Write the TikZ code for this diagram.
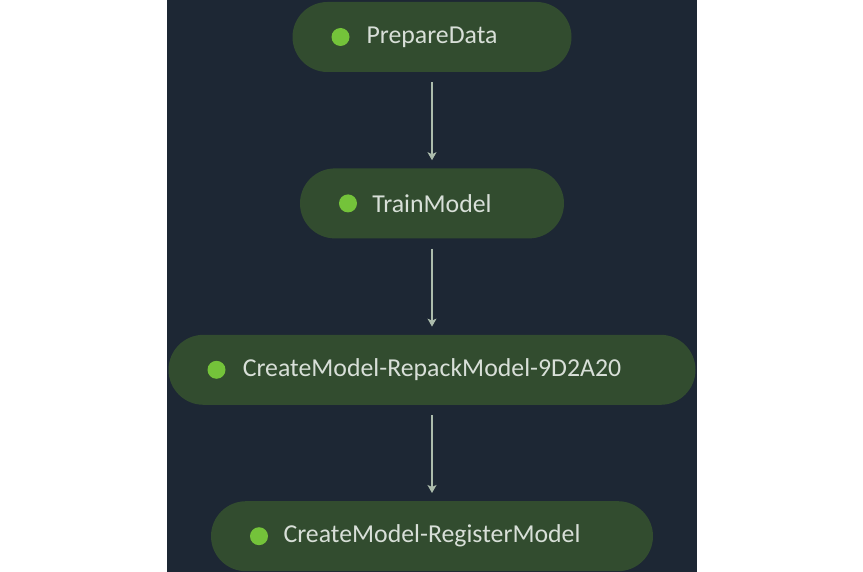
\documentclass[tikz,border=0pt]{standalone}
\usepackage{fontspec}
\setmainfont{Carlito}
\usetikzlibrary{positioning,arrows.meta}
\definecolor{sfondo}{RGB}{29,39,52}
\definecolor{nodo}{RGB}{50,76,47}
\definecolor{punto}{RGB}{116,195,58}
\definecolor{testo}{RGB}{216,223,216}
\definecolor{freccia}{RGB}{172,188,172}
\tikzset{
	passo/.style={fill=nodo, rounded corners=35pt, minimum height=70pt, inner sep=0pt,
		text=testo, font=\fontsize{25.8}{30}\selectfont},
	pallino/.style={circle, fill=punto, minimum size=18pt, inner sep=0pt},
	collega/.style={draw=freccia, line width=1.2pt, -{Stealth[length=8pt,width=9pt,inset=2pt]}}
}
\begin{document}
\begin{tikzpicture}[x=1pt,y=1pt]
	\useasboundingbox (0,0) rectangle (863,-572);
	\fill[sfondo] (167,0) rectangle (697,-572);
	% passi della pipeline
	\node[passo, minimum width=279pt] (prep) at (432,-37) {PrepareData};
	\node[passo, minimum width=264pt, below=96pt of prep] (train) {TrainModel};
	\node[passo, minimum width=527pt, below=96pt of train] (repack) {CreateModel-RepackModel-9D2A20};
	\node[passo, minimum width=442pt, below=96pt of repack] (reg) {CreateModel-RegisterModel};
	% pallini di stato
	\node[pallino, right=39pt of prep.west] (dprep) {};
	\node[pallino, right=39pt of train.west] (dtrain) {};
	\node[pallino, right=39pt of repack.west] (drepack) {};
	\node[pallino, right=39pt of reg.west] (dreg) {};
	% frecce
	\draw[collega] ([yshift=-10pt]prep.south) -- ([yshift=8pt]train.north);
	\draw[collega] ([yshift=-10pt]train.south) -- ([yshift=8pt]repack.north);
	\draw[collega] ([yshift=-10pt]repack.south) -- ([yshift=8pt]reg.north);
\end{tikzpicture}
\end{document}
